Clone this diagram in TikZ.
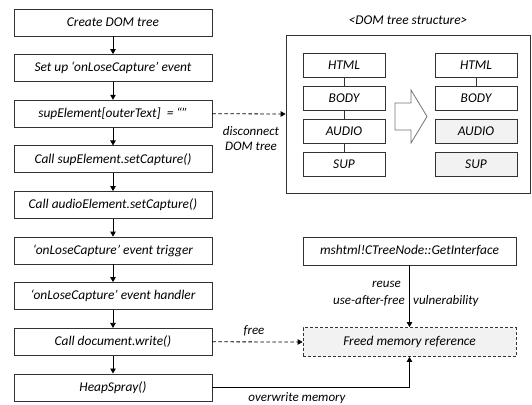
\documentclass[tikz,border=0pt]{standalone}
\usepackage{fontspec}
\setmainfont{Carlito}
\usetikzlibrary{arrows.meta}
\definecolor{ln}{RGB}{50,50,50}
\definecolor{lightfill}{RGB}{242,242,242}
\begin{document}
\begin{tikzpicture}[x=1pt,y=-1pt,
  font=\fontsize{13.4}{15}\selectfont\itshape,
  every node/.style={inner sep=0pt},
  stepbox/.style={draw=ln,line width=0.8pt,minimum width=198pt,minimum height=27pt},
  dombox/.style={draw=ln,line width=0.8pt,minimum width=82pt,minimum height=24pt},
  grayfill/.style={fill=lightfill},
  conn/.style={draw=black,line width=0.8pt,-{Triangle[length=5pt,width=5.5pt]}},
  dconn/.style={conn,dashed,dash pattern=on 3.5pt off 2.5pt},
  lbl/.style={font=\fontsize{13}{15}\selectfont\itshape}]
\useasboundingbox (0,0) rectangle (532,404);

% left flow
\node[stepbox] (s1) at (113,22.5) {Create DOM tree};
\node[stepbox] (s2) at (113,68) {Set up ‘onLoseCapture’ event};
\node[stepbox] (s3) at (113,113.7) {supElement[outerText]\ \ = “”};
\node[stepbox] (s4) at (113,159.3) {Call supElement.setCapture()};
\node[stepbox] (s5) at (113,205) {Call audioElement.setCapture()};
\node[stepbox] (s6) at (113,250.5) {‘onLoseCapture’ event trigger};
\node[stepbox] (s7) at (113,296) {‘onLoseCapture’ event handler};
\node[stepbox] (s8) at (113,341.8) {Call document.write()};
\node[stepbox] (s9) at (113,387.4) {HeapSpray()};
\foreach \a/\b in {s1/s2,s2/s3,s3/s4,s4/s5,s5/s6,s6/s7,s7/s8,s8/s9}
  \draw[conn] (\a) -- (\b);

% DOM tree structure
\node (domtitle) at (408,20) {<DOM tree structure>};
\node[draw=ln,line width=0.8pt,minimum width=244pt,minimum height=158pt] (dom) at (408,114) {};
\node[dombox] (lh) at (344,65) {HTML};
\node[dombox] (lb) at (344,98) {BODY};
\node[dombox] (la) at (344,131) {AUDIO};
\node[dombox] (ls) at (344,164) {SUP};
\node[dombox] (rh) at (476,65) {HTML};
\node[dombox] (rb) at (476,98) {BODY};
\node[dombox,grayfill] (ra) at (476,131) {AUDIO};
\node[dombox,grayfill] (rs) at (476,164) {SUP};
\draw[ln,line width=0.8pt] (lh) -- (lb) (lb) -- (la) (la) -- (ls) (rh) -- (rb);
\draw[gray!90!black,line width=0.8pt,fill=white] (395,103) -- (411,103) -- (411,90) -- (427,116.5) -- (411,143) -- (411,130) -- (395,130) -- cycle;

\draw[dconn] (s3.east) -- (dom.west);
\node[lbl] (disc1) at (251,131) {disconnect};
\node[lbl] (disc2) at (251,146) {DOM tree};

% memory part
\node[draw=ln,line width=0.8pt,minimum width=213pt,minimum height=28pt] (gi) at (409.5,251) {mshtml!CTreeNode::GetInterface};
\node[draw=ln,line width=0.8pt,dashed,dash pattern=on 3pt off 2pt,fill=lightfill,minimum width=213pt,minimum height=29pt] (fm) at (409.5,342) {Freed memory reference};
\draw[conn] (gi) -- (fm);
\node[lbl,anchor=east] (reuse) at (401,284) {reuse};
\node[lbl,anchor=east] (uaf) at (405,301) {use-after-free};
\node[lbl,anchor=west] (vul) at (413,301) {vulnerability};

\draw[dconn] (s8.east) -- (fm.west);
\node[lbl] (free) at (254,331) {free};
\draw[conn] (s9.east) -| (fm.south);
\node[lbl] (ow) at (297,398.5) {overwrite memory};
\end{tikzpicture}
\end{document}
